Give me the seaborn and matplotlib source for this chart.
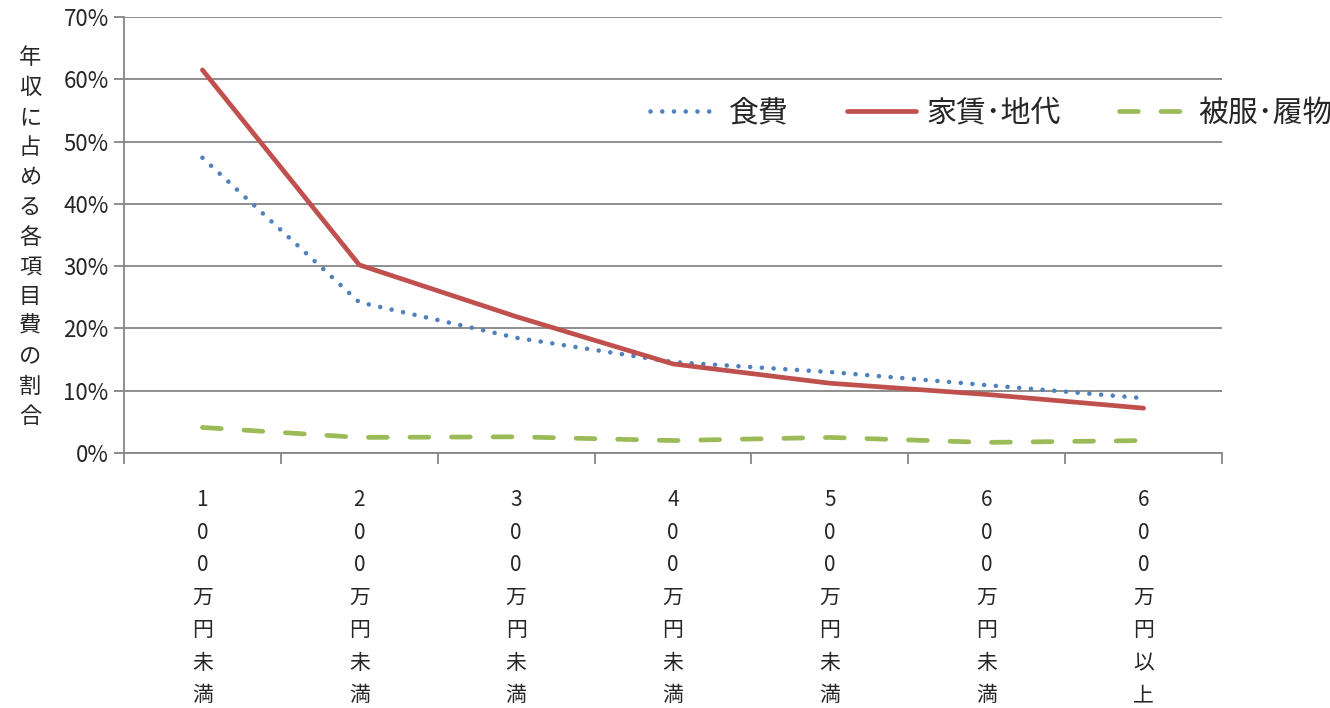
import numpy as np
import pandas as pd
import seaborn as sns
from matplotlib import pyplot as plt
from matplotlib.ticker import PercentFormatter, FixedLocator

# income brackets (x categories)
brackets = ['100万円未満', '200万円未満', '300万円未満', '400万円未満',
            '500万円未満', '600万円未満', '600万円以上']

# share of annual income spent on each item [%]
food = [47.4, 24.2, 18.5, 14.6, 13.0, 10.9, 8.8]
rent = [61.5, 30.2, 21.9, 14.3, 11.2, 9.4, 7.2]
clothing = [4.1, 2.5, 2.6, 2.0, 2.5, 1.7, 2.0]

series_names = ['食費', '家賃･地代', '被服･履物']
ylabel = '年収に占める各項目費の割合'

sns.set_style('white')
plt.rcParams['font.family'] = ['Noto Sans CJK JP', 'DejaVu Sans']

df = pd.DataFrame({'bracket': brackets, series_names[0]: food,
                   series_names[1]: rent, series_names[2]: clothing})
df['pos'] = np.arange(len(brackets))

fig = plt.figure(figsize=(13.3, 7.08), dpi=100)
ax = fig.add_axes([124/1330, 1 - 453/708, (1222-124)/1330, (453-17)/708])

# 食費 - blue dotted
sns.lineplot(data=df, x='pos', y=series_names[0], ax=ax, color='#4F81BD',
             linewidth=3.3, linestyle=(0, (0.01, 2.55)), dash_capstyle='round',
             label=series_names[0])
# 家賃・地代 - red solid
sns.lineplot(data=df, x='pos', y=series_names[1], ax=ax, color='#C0504D',
             linewidth=3.4, solid_capstyle='round', label=series_names[1])
# 被服・履物 - green dashed
sns.lineplot(data=df, x='pos', y=series_names[2], ax=ax, color='#9BBB59',
             linewidth=3.4, linestyle=(0, (4.0, 4.8)), dash_capstyle='round',
             label=series_names[2])

ax.set_xlim(-0.5, len(brackets) - 0.5)
ax.set_ylim(0, 70)
ax.yaxis.set_major_locator(FixedLocator(np.arange(0, 71, 10)))
ax.yaxis.set_major_formatter(PercentFormatter(decimals=0))
ax.grid(axis='y', color='#868686', linewidth=1.3)
ax.set_axisbelow(True)

ax.set_xticks(df['pos'])
ax.set_xticklabels(['\n'.join(b) for b in brackets], fontsize=15,
                   linespacing=1.62, va='top')
ax.set_xticks(np.arange(-0.5, len(brackets)), minor=True)
ax.tick_params(axis='x', which='major', length=0, pad=26)
ax.tick_params(axis='x', which='minor', length=8, width=1.3, color='#868686',
               direction='out', bottom=True)
ax.tick_params(axis='y', length=7, width=1.3, color='#868686', direction='out',
               left=True, labelsize=16, pad=4)
ax.set_xlabel('')
ax.set_ylabel('')

for side in ['top', 'right']:
    ax.spines[side].set_visible(False)
for side in ['left', 'bottom']:
    ax.spines[side].set_color('#868686')
    ax.spines[side].set_linewidth(1.3)

# stacked vertical y label
fig.text(30/1330, 1 - 237/708, '\n'.join(ylabel), fontsize=16,
         ha='center', va='center', linespacing=1.38)

ax.get_legend().remove()
handles, labels = ax.get_legend_handles_labels()
fig.legend(handles, labels, loc='center left', ncol=3,
           bbox_to_anchor=(638/1330, 1 - 113/708), frameon=False,
           fontsize=21.5, handlelength=2.3, handletextpad=0.35,
           columnspacing=1.95, borderaxespad=0)

fig.savefig('out.png', dpi=100)
